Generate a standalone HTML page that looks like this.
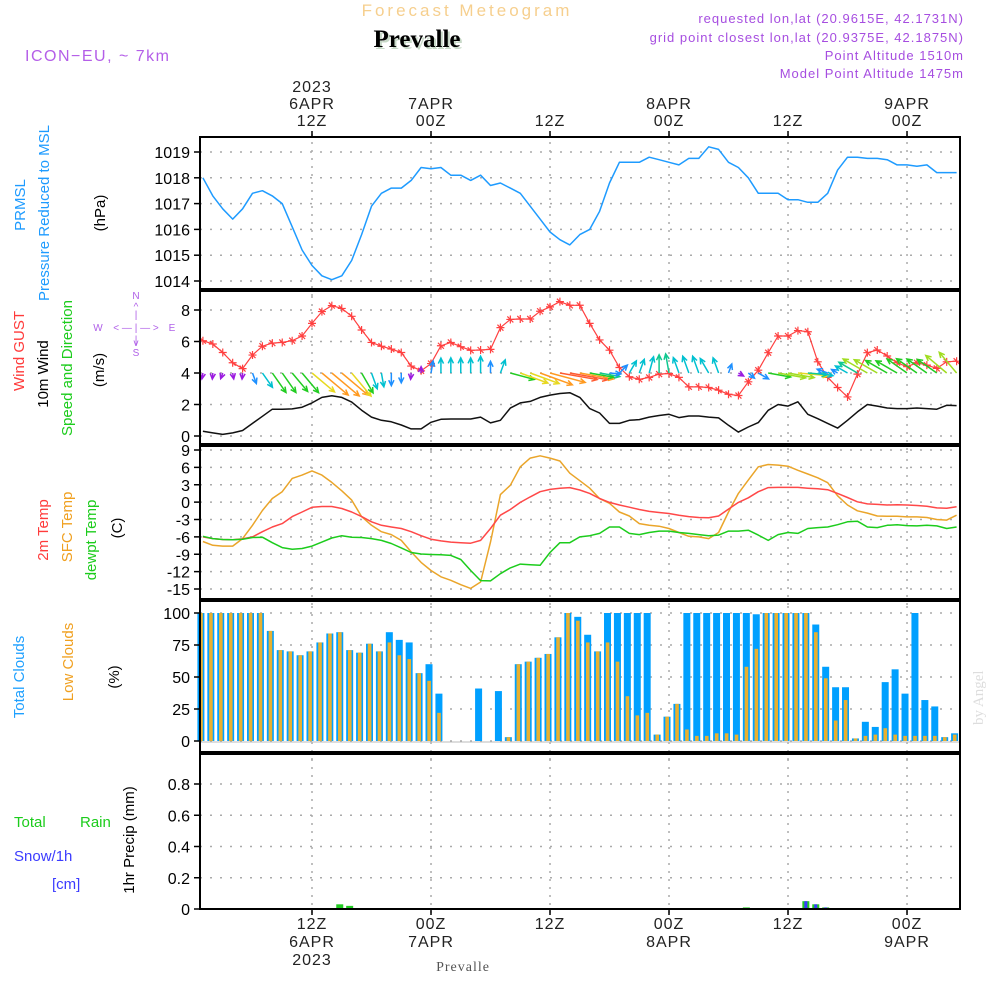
<!DOCTYPE html>
<html><head><meta charset="utf-8"><style>
html,body{margin:0;padding:0;background:#fff}
svg{display:block;font-family:"Liberation Sans",sans-serif}
</style></head><body>
<svg id="chart" width="1000" height="1000" viewBox="0 0 1000 1000" xmlns="http://www.w3.org/2000/svg">
<rect width="1000" height="1000" fill="#fff"/>
<text x="467" y="16" font-size="17" fill="#f6cf8e" text-anchor="middle" letter-spacing="3">Forecast Meteogram</text>
<text x="419" y="49" font-size="25" font-weight="bold" font-family="Liberation Serif,serif" fill="#c7d8c7" text-anchor="middle">Prevalle</text>
<text x="417" y="47" font-size="25" font-weight="bold" font-family="Liberation Serif,serif" fill="#000" text-anchor="middle">Prevalle</text>
<text x="25" y="61" font-size="16" fill="#b45ee8" letter-spacing="1.5">ICON−EU, ~ 7km</text>
<g font-size="13" fill="#a64de0" text-anchor="end" letter-spacing="1">
<text x="964" y="23">requested lon,lat (20.9615E, 42.1731N)</text>
<text x="964" y="42">grid point closest lon,lat (20.9375E, 42.1875N)</text>
<text x="964" y="60">Point Altitude 1510m</text>
<text x="964" y="78">Model Point Altitude 1475m</text>
</g>
<text transform="translate(983,725) rotate(-90)" font-size="15" font-family="Liberation Serif,serif" fill="#ddd">by Angel</text>
<text x="463" y="971" font-size="14" font-family="Liberation Serif,serif" fill="#555" text-anchor="middle" letter-spacing="1">Prevalle</text>

<g font-size="15">
<text transform="translate(25,205) rotate(-90)" text-anchor="middle" fill="#1e9bff">PRMSL</text>
<text transform="translate(49,213) rotate(-90)" text-anchor="middle" fill="#1e9bff">Pressure Reduced to MSL</text>
<text transform="translate(105,213) rotate(-90)" text-anchor="middle" fill="#000">(hPa)</text>
</g>
<g font-size="15">
<text transform="translate(24,351) rotate(-90)" text-anchor="middle" fill="#ff3b3b">Wind GUST</text>
<text transform="translate(48,374) rotate(-90)" text-anchor="middle" fill="#000">10m Wind</text>
<text transform="translate(72,368) rotate(-90)" text-anchor="middle" fill="#1ccc1c">Speed and Direction</text>
<text transform="translate(104,370) rotate(-90)" text-anchor="middle" fill="#000">(m/s)</text>
<g font-size="10" fill="#b060e8" text-anchor="middle">
<text x="136" y="299">N</text><text x="136" y="310">^</text><text x="136" y="318">|</text>
<text x="136" y="331">&lt; — | — &gt;</text><text x="98" y="331">W</text><text x="172" y="331">E</text>
<text x="136" y="343">|</text><text x="136" y="346">v</text><text x="136" y="356">S</text>
</g>
</g>
<g font-size="15">
<text transform="translate(48,530) rotate(-90)" text-anchor="middle" fill="#ff3b3b">2m Temp</text>
<text transform="translate(72,527) rotate(-90)" text-anchor="middle" fill="#f0a020">SFC Temp</text>
<text transform="translate(96,540) rotate(-90)" text-anchor="middle" fill="#1ccc1c">dewpt Temp</text>
<text transform="translate(122,528) rotate(-90)" text-anchor="middle" fill="#000">(C)</text>
</g>
<g font-size="15">
<text transform="translate(24,677) rotate(-90)" text-anchor="middle" fill="#1ea0ff">Total Clouds</text>
<text transform="translate(73,662) rotate(-90)" text-anchor="middle" fill="#f0a020">Low Clouds</text>
<text transform="translate(119,677) rotate(-90)" text-anchor="middle" fill="#000">(%)</text>
</g>
<g font-size="15">
<text x="14" y="827" fill="#1ccc1c">Total</text><text x="80" y="827" fill="#1ccc1c">Rain</text>
<text x="14" y="861" fill="#3b3bff">Snow/1h</text>
<text x="52" y="889" fill="#3b3bff">[cm]</text>
<text transform="translate(134,840) rotate(-90)" text-anchor="middle" fill="#000">1hr Precip (mm)</text>
</g>
<g id="grid"></g>
<g id="marks"></g>
<g id="frames"></g>
</svg>
<script>
const hours = Array.from({length:77},(_,i)=>i+1);
const pressure = [1018.0,1017.3,1016.8,1016.4,1016.8,1017.4,1017.5,1017.3,1017.0,1016.1,1015.2,1014.6,1014.2,1014.05,1014.2,1014.8,1015.8,1016.9,1017.4,1017.6,1017.6,1017.9,1018.4,1018.35,1018.4,1018.1,1018.1,1017.9,1018.1,1017.7,1017.8,1017.6,1017.4,1016.9,1016.4,1015.9,1015.6,1015.4,1015.8,1016.0,1016.7,1017.8,1018.6,1018.6,1018.6,1018.8,1018.7,1018.6,1018.5,1018.75,1018.75,1019.2,1019.1,1018.6,1018.4,1018.0,1017.4,1017.4,1017.4,1017.15,1017.15,1017.05,1017.05,1017.4,1018.3,1018.8,1018.8,1018.75,1018.75,1018.7,1018.5,1018.5,1018.45,1018.5,1018.2,1018.2,1018.2];
const windSpeed = [0.3,0.2,0.1,0.2,0.35,0.8,1.25,1.7,1.7,1.72,1.83,2.1,2.45,2.55,2.45,2.15,1.64,1.2,1.0,0.9,0.7,0.45,0.45,0.87,1.06,1.08,1.08,1.08,1.2,0.83,1.0,1.77,2.1,2.2,2.45,2.6,2.7,2.75,2.45,1.74,1.46,0.8,0.8,1.0,1.04,1.2,1.3,1.38,1.17,1.27,1.27,1.2,1.15,0.68,0.25,0.57,0.85,1.63,2.0,1.9,2.17,1.38,1.1,0.8,0.5,1.0,1.53,2.0,1.9,1.78,1.74,1.74,1.78,1.74,1.7,1.95,1.93];
const windDir = [190,185,200,170,185,160,145,145,145,140,140,130,130,130,130,140,150,160,170,180,180,185,0,10,0,0,0,0,0,0,20,105,110,110,110,105,100,100,100,100,100,95,45,30,20,15,0,350,340,340,340,330,340,20,120,130,120,100,100,100,95,95,100,290,300,300,300,300,300,300,300,305,305,305,305,310,320];
const gust = [6.05,5.84,5.3,4.65,4.28,5.14,5.7,5.9,5.94,6.05,6.35,7.15,7.9,8.28,8.1,7.6,6.73,5.94,5.7,5.52,5.3,4.44,4.14,4.6,5.73,5.94,5.67,5.44,5.46,5.5,6.88,7.4,7.43,7.43,7.92,8.2,8.53,8.3,8.3,7.15,6.1,5.45,4.35,3.76,3.6,3.72,3.93,3.97,3.72,3.12,3.12,3.08,2.91,2.65,2.57,3.44,4.18,5.29,6.35,6.35,6.69,6.62,4.71,3.72,3.08,2.48,3.93,5.29,5.46,5.08,4.65,4.4,4.65,4.5,4.29,4.71,4.75];
const temp2m = [-6.0,-6.3,-6.45,-6.5,-6.35,-6.0,-5.1,-4.3,-3.7,-2.5,-1.7,-0.9,-0.75,-0.75,-1.1,-1.7,-2.5,-3.4,-4.0,-4.3,-4.55,-5.1,-5.8,-6.4,-6.7,-6.9,-7.0,-7.1,-6.6,-4.55,-2.25,-1.27,-0.05,0.9,1.8,2.2,2.4,2.5,2.1,1.5,0.63,-0.05,-0.5,-0.87,-1.27,-1.6,-1.8,-1.96,-2.25,-2.5,-2.65,-2.7,-2.4,-1.2,-0.05,0.75,1.8,2.5,2.55,2.55,2.55,2.4,2.3,2.15,1.5,0.8,0.05,-0.3,-0.4,-0.5,-0.45,-0.5,-0.58,-0.7,-1.0,-1.05,-0.8];
const tempSfc = [-6.8,-7.45,-7.6,-7.6,-6.3,-4.0,-1.45,0.63,1.8,4.1,4.67,5.4,4.67,3.4,1.96,0.35,-2.5,-4.0,-5.1,-5.6,-6.6,-8.6,-10.4,-11.8,-12.9,-13.5,-14.25,-14.9,-13.8,-6.9,1.3,2.9,6.1,7.6,8.0,7.6,7.1,5.0,3.7,2.4,0.6,-0.2,-1.7,-2.4,-3.7,-4.0,-4.15,-4.55,-5.25,-5.9,-6.0,-6.3,-5.25,-1.7,1.5,3.8,6.1,6.5,6.4,6.2,5.5,4.85,4.2,3.35,1.1,-0.5,-1.5,-1.9,-2.4,-2.45,-2.45,-2.55,-2.55,-2.65,-3.0,-3.1,-2.25];
const dewpoint = [-5.9,-6.3,-6.45,-6.5,-6.4,-6.1,-6.05,-7.0,-7.85,-8.15,-8.0,-7.6,-6.9,-6.2,-5.8,-6.05,-6.1,-6.3,-6.6,-7.15,-7.9,-8.7,-8.95,-9.05,-9.1,-9.2,-9.9,-11.8,-13.55,-13.6,-12.35,-11.35,-10.7,-10.8,-10.9,-8.7,-7.0,-7.0,-6.0,-5.8,-5.4,-4.3,-4.3,-5.4,-5.6,-5.25,-5.0,-5.0,-5.25,-5.4,-5.6,-5.8,-5.7,-5.0,-5.0,-4.85,-5.7,-6.6,-5.6,-5.25,-5.4,-4.55,-4.4,-4.3,-3.9,-3.4,-3.3,-4.3,-4.4,-4.0,-3.9,-4.05,-4.1,-4.0,-4.1,-4.55,-4.3];
const totalClouds = [100,100,100,100,100,100,100,86,71,70,67,70,77,84,85,71,69,76,70,85,79,77,53,60,37,0,0,0,41,0,39,3,60,62,65,68,81,100,97,83,70,100,100,100,100,100,5,19,29,100,100,100,100,100,100,100,99,100,100,100,100,100,91,58,42,42,2,15,11,46,56,37,100,32,27,3,6];
const lowClouds = [100,100,100,100,100,100,100,86,71,70,67,70,77,84,85,71,69,76,70,77,67,64,53,47,22,0,0,0,0,0,0,3,60,62,65,68,81,100,94,77,70,77,62,35,20,22,5,19,29,9,4,4,6,6,5,58,72,100,100,100,100,100,85,49,16,32,2,4,5,10,5,4,4,4,4,3,5];
const rain = [0,0,0,0,0,0,0,0,0,0,0,0,0,0.005,0.03,0.02,0,0,0,0,0,0,0,0,0,0,0,0,0,0,0,0,0,0,0,0,0,0,0,0,0,0,0,0,0,0,0,0,0,0,0,0,0,0,0,0.01,0,0,0,0,0,0.05,0.03,0.01,0,0,0,0,0,0,0,0,0,0,0,0,0];
const snow = [0,0,0,0,0,0,0,0,0,0,0,0,0,0,0,0,0,0,0,0,0,0,0,0,0,0,0,0,0,0,0,0,0,0,0,0,0,0,0,0,0,0,0,0,0,0,0,0,0,0,0,0,0,0,0,0,0,0,0,0,0,0.05,0.03,0.01,0,0,0,0,0,0,0,0,0,0,0,0,0];
const pressureTicks = [1014,1015,1016,1017,1018,1019];
const windTicks = [0,2,4,6,8];
const tempTicks = [9,6,3,0,-3,-6,-9,-12,-15];
const cloudTicks = [0,25,50,75,100];
const precipTicks = [0,0.2,0.4,0.6,0.8];
const timeTicks = [12,24,36,48,60,72];
const topLabels = [["2023","6APR","12Z"],["","7APR","00Z"],["","","12Z"],["","8APR","00Z"],["","","12Z"],["","9APR","00Z"]];
const bottomLabels = [["12Z","6APR","2023"],["00Z","7APR",""],["12Z","",""],["00Z","8APR",""],["12Z","",""],["00Z","9APR",""]];

const NS="http://www.w3.org/2000/svg";
const X0=200,X1=960;
const xT=t=>312+(t-12)*9.917;
const lin=(d0,d1,r0,r1)=>v=>r0+(v-d0)*(r1-r0)/(d1-d0);
const yP=lin(1014,1019,281,152), yW=lin(0,8,436,310), yTm=lin(9,-15,450,589), yC=lin(0,100,741,613), yR=lin(0,0.8,909,784);
const panels=[[137,289,yP,pressureTicks,'pressure-panel'],[291,444,yW,windTicks,'wind-panel'],[446,599,yTm,tempTicks,'temp-panel'],[601,752,yC,cloudTicks,'cloud-panel'],[754,909,yR,precipTicks,'precip-panel']];
function mk(tag,attrs,parent){const e=document.createElementNS(NS,tag);for(const k in attrs)e.setAttribute(k,attrs[k]);parent.appendChild(e);return e;}
const grid=document.getElementById('grid'),marks=document.getElementById('marks'),frames=document.getElementById('frames');
panels.forEach(([y0,y1,sc,ticks,name])=>{
  const fr=mk('rect',{x:X0,y:y0,width:X1-X0,height:y1-y0,fill:'none',stroke:'#000','stroke-width':2},frames);
  
  
  ticks.forEach(v=>{
    const y=sc(v);
    const g=mk('line',{x1:X0,x2:X1,y1:y,y2:y,stroke:'#aaa','stroke-width':1.5,'stroke-dasharray':'2 8'},grid);
    
    
    mk('line',{x1:X0-6,x2:X0,y1:y,y2:y,stroke:'#000','stroke-width':1.5},frames);
    const t=mk('text',{x:X0-10,y:y+6,'font-size':16,'text-anchor':'end',fill:'#000'},frames);
    t.textContent=(name==='precip-panel'&&v!==0)?v.toFixed(1):String(v);
    
    
  });
  timeTicks.forEach(tt=>{
    const x=xT(tt);
    const g=mk('line',{x1:x,x2:x,y1:y0-3,y2:y1+8,stroke:'#aaa','stroke-width':1.5,'stroke-dasharray':'2 6'},grid);
    
    
  });
});
timeTicks.forEach((tt,i)=>{
  const x=xT(tt);
  mk('line',{x1:x,x2:x,y1:131,y2:137,stroke:'#000','stroke-width':1.5},frames);
  mk('line',{x1:x,x2:x,y1:909,y2:915,stroke:'#000','stroke-width':1.5},frames);
  topLabels[i].forEach((s,j)=>{if(!s)return;const t=mk('text',{x:x,y:92+j*17,'font-size':16,'text-anchor':'middle',fill:'#222','letter-spacing':1},frames);t.textContent=s;
    
    });
  bottomLabels[i].forEach((s,j)=>{if(!s)return;const t=mk('text',{x:x,y:929+j*18,'font-size':16,'text-anchor':'middle',fill:'#222','letter-spacing':1},frames);t.textContent=s;
    
    });
});
function line(vals,sc,color,name,w){
  const pts=vals.map((v,i)=>xT(hours[i]).toFixed(1)+','+sc(v).toFixed(1)).join(' ');
  const p=mk('polyline',{points:pts,fill:'none',stroke:color,'stroke-width':w||1.5,'stroke-linejoin':'round'},marks);
  
  
}
hours.forEach((t,i)=>{
  const x=xT(t)-2;
  if(totalClouds[i]>0){const r=mk('rect',{x:x-3.5,y:yC(totalClouds[i]),width:7,height:yC(0)-yC(totalClouds[i]),fill:'#00a0ff'},marks);
  
  }
  if(lowClouds[i]>0){const r=mk('rect',{x:x-1.7,y:yC(lowClouds[i]),width:3.6,height:yC(0)-yC(lowClouds[i]),fill:'#e8b030'},marks);
  
  }
  if(rain[i]>0){const r=mk('rect',{x:x-3.5,y:yR(rain[i]),width:7,height:yR(0)-yR(rain[i]),fill:'#22cc22'},marks);
  
  }
  if(snow[i]>0){const r=mk('rect',{x:x-1.5,y:yR(snow[i]),width:3,height:yR(0)-yR(snow[i]),fill:'#3b3bff'},marks);
  
  }
});
mk('line',{x1:X0,x2:X1,y1:yC(0)+1,y2:yC(0)+1,stroke:'#bbb','stroke-width':1},marks);
mk('line',{x1:X0,x2:X1,y1:yR(0),y2:yR(0),stroke:'#333','stroke-width':1.5,'stroke-dasharray':'5 2'},marks);
line(pressure,yP,'#1e9bff','pressure-line',1.5);
line(windSpeed,yW,'#111','wind-speed-line',1.5);
line(gust,yW,'#ff4040','gust-line',1.2);
hours.forEach((t,i)=>{
  const x=xT(t),y=yW(gust[i]);
  const m=mk('path',{d:`M${x-4},${y}H${x+4}M${x},${y-4}V${y+4}M${x-3},${y-3}L${x+3},${y+3}`,stroke:'#ff4040','stroke-width':1.2,fill:'none'},marks);
  
  
});
function spdColor(s){if(s<0.5)return'#9b1be0';if(s<1.0)return'#1e90ff';if(s<1.3)return'#00c0d0';if(s<1.6)return'#10c890';if(s<1.9)return'#22cc22';if(s<2.1)return'#a0dd20';if(s<2.3)return'#e8d820';if(s<2.65)return'#ff9a20';return'#ff5a30';}
hours.forEach((t,i)=>{
  const s=windSpeed[i],b=windDir[i]*Math.PI/180,L=Math.max(6,s*14);
  const x0=xT(t),y0=yW(4),x1=x0+L*Math.sin(b),y1=y0-L*Math.cos(b);
  const ha=0.45,hl=6,ang=Math.atan2(y1-y0,x1-x0);
  const d=`M${x0},${y0}L${x1},${y1}M${x1-hl*Math.cos(ang-ha)},${y1-hl*Math.sin(ang-ha)}L${x1},${y1}L${x1-hl*Math.cos(ang+ha)},${y1-hl*Math.sin(ang+ha)}`;
  const a=mk('path',{d:d,stroke:spdColor(s),'stroke-width':1.5,fill:'none'},marks);
  
  
});
line(tempSfc,yTm,'#eaa52a','sfc-temp-line',1.5);
line(temp2m,yTm,'#ff4848','temp-2m-line',1.5);
line(dewpoint,yTm,'#1ccc1c','dewpoint-line',1.5);
</script>
</body></html>
